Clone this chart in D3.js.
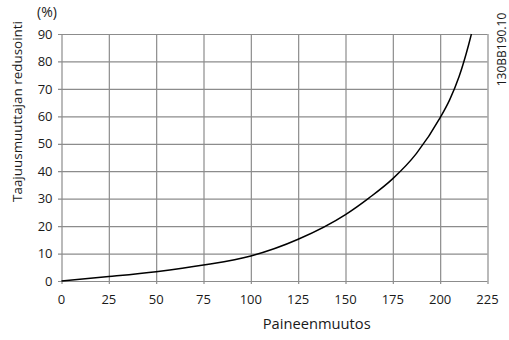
<!DOCTYPE html>
<html>
<head>
<meta charset="utf-8">
<script src="https://cdn.jsdelivr.net/npm/d3@7"></script>
<style>
  body { margin: 0; background: #fff; }
  text { font-family: "Open Sans", sans-serif; fill: #1a1a1a; }
</style>
</head>
<body>
<script>
// values
const paine = [0, 25, 50, 75, 100, 125, 150, 162.5, 175, 187.5, 200, 205, 210, 215, 216.5];
const reduktio = [0, 1.6, 3.4, 5.8, 9.1, 15.2, 24.2, 30.3, 37.3, 46.5, 59.5, 66, 74.5, 86, 90];
const xTicks = [0, 25, 50, 75, 100, 125, 150, 175, 200, 225];
const yTicks = [0, 10, 20, 30, 40, 50, 60, 70, 80, 90];

const W = 509, H = 340;
const pLeft = 61.5, pRight = 487.5, pTop = 34, pBottom = 281;

const svg = d3.select('body').append('svg')
    .attr('width', W)
    .attr('height', H);

const x = d3.scaleLinear().domain([0, 225]).range([pLeft, pRight]);
const y = d3.scaleLinear().domain([0, 90]).range([pBottom, pTop]);

// grid
svg.append('g')
    .attr('transform', `translate(0, ${pBottom})`)
    .call(d3.axisBottom(x).tickValues(xTicks).tickSize(-(pBottom - pTop)).tickFormat(''))
    .call(g => g.select('.domain').remove())
    .selectAll('line')
    .attr('y1', 3)
    .attr('stroke', '#8c8c8c')
    .attr('stroke-width', 1.2);

svg.append('g')
    .attr('transform', `translate(${pLeft}, 0)`)
    .call(d3.axisLeft(y).tickValues(yTicks).tickSize(-(pRight - pLeft)).tickFormat(''))
    .call(g => g.select('.domain').remove())
    .selectAll('line')
    .attr('x1', -3.5)
    .attr('stroke', '#8c8c8c')
    .attr('stroke-width', 1.2);

// tick labels
svg.append('g').selectAll('text')
    .data(xTicks)
    .enter()
    .append('text')
    .attr('x', d => x(d))
    .attr('y', 304)
    .attr('text-anchor', 'middle')
    .style('font-size', '13px')
    .text(d => d);

svg.append('g').selectAll('text')
    .data(yTicks)
    .enter()
    .append('text')
    .attr('x', 52.5)
    .attr('y', d => y(d) + 4.7)
    .attr('text-anchor', 'end')
    .style('font-size', '13px')
    .text(d => d);

// curve
const pts = paine.map((p, i) => [p, reduktio[i]]);
svg.append('path')
    .datum(pts)
    .attr('fill', 'none')
    .attr('stroke', '#000')
    .attr('stroke-width', 1.5)
    .attr('d', d3.line().x(d => x(d[0])).y(d => y(d[1])).curve(d3.curveMonotoneX));

// size a label so it spans the wanted length
function fit(sel, len) {
    const w = sel.node().getComputedTextLength();
    sel.style('font-size', (13 * len / w).toFixed(2) + 'px');
}

const xLab = svg.append('text')
    .attr('x', 316.7)
    .attr('y', 329)
    .attr('text-anchor', 'middle')
    .style('font-size', '13px')
    .text('Paineenmuutos');
fit(xLab, 108);

const yLab = svg.append('text')
    .attr('transform', 'translate(22, 111.5) rotate(-90)')
    .attr('text-anchor', 'middle')
    .style('font-size', '13px')
    .text('Taajuusmuuttajan redusointi');
fit(yLab, 181);

svg.append('text')
    .attr('x', 37)
    .attr('y', 17)
    .style('font-size', '14px')
    .text('(%)');

svg.append('text')
    .attr('transform', 'translate(506, 49.5) rotate(-90)')
    .attr('text-anchor', 'middle')
    .style('font-size', '12px')
    .text('130BB190.10');
</script>
</body>
</html>
